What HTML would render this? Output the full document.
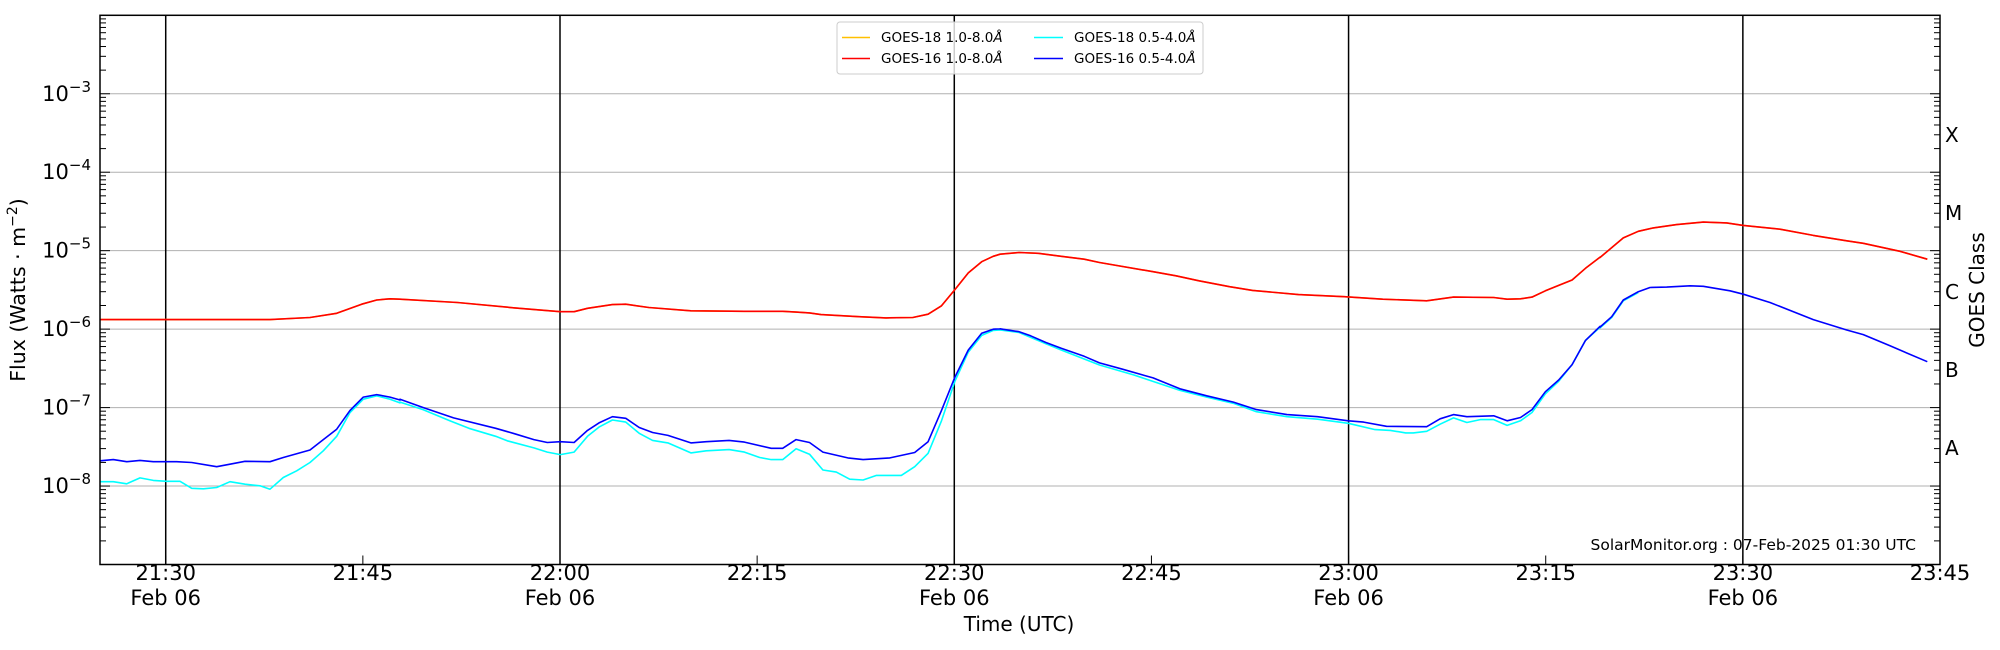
<!DOCTYPE html>
<html><head><meta charset="utf-8"><style>
html,body{margin:0;padding:0;background:#fff;}
svg{display:block;font-family:"DejaVu Sans","Liberation Sans",sans-serif;}
</style></head><body>
<svg id="s" width="2000" height="650" viewBox="0 0 2000 650" xmlns="http://www.w3.org/2000/svg">
<rect width="2000" height="650" fill="#fff"/>
<g id="grid"></g>
<g id="vl"></g>
<g id="series" fill="none" stroke-width="1.6" stroke-linejoin="round"></g>
<rect x="100" y="15.3" width="1840" height="549.2" fill="none" stroke="#000" stroke-width="1.5"/>
<g id="ticks" stroke="#000" stroke-width="1"></g>
<g id="labels" font-size="21" fill="#000"></g>
<text x="25" y="290" font-size="20.5" text-anchor="middle" transform="rotate(-90 25 290)">Flux (Watts · m<tspan font-size="14" dy="-8">−2</tspan><tspan dy="8">)</tspan></text>
<text x="1019" y="631" font-size="20" text-anchor="middle">Time (UTC)</text>
<text x="1984" y="290" font-size="20" text-anchor="middle" transform="rotate(-90 1984 290)">GOES Class</text>
<g font-size="20">
<text x="1945" y="142">X</text><text x="1945" y="220">M</text><text x="1945" y="299">C</text><text x="1945" y="377">B</text><text x="1945" y="455">A</text>
</g>
<text x="1916" y="550" font-size="15.5" text-anchor="end">SolarMonitor.org : 07-Feb-2025 01:30 UTC</text>
<rect x="837" y="22" width="366" height="52" rx="3" fill="#fff" fill-opacity="0.8" stroke="#ccc" stroke-width="1"/>
<g font-size="13.5" fill="#000">
<line x1="842" y1="37.5" x2="870" y2="37.5" stroke="#ffc000" stroke-width="1.6"/>
<text x="881" y="42">GOES-18 1.0-8.0<tspan font-style="italic">Å</tspan></text>
<line x1="842" y1="58.5" x2="870" y2="58.5" stroke="#ff0000" stroke-width="1.6"/>
<text x="881" y="63">GOES-16 1.0-8.0<tspan font-style="italic">Å</tspan></text>
<line x1="1034" y1="37.5" x2="1063" y2="37.5" stroke="#00ffff" stroke-width="1.6"/>
<text x="1074" y="42">GOES-18 0.5-4.0<tspan font-style="italic">Å</tspan></text>
<line x1="1034" y1="58.5" x2="1063" y2="58.5" stroke="#0000ff" stroke-width="1.6"/>
<text x="1074" y="63">GOES-16 0.5-4.0<tspan font-style="italic">Å</tspan></text>
</g>
</svg>
<script>
(function(){
var NS="http://www.w3.org/2000/svg";
function el(p,t,a,txt){var e=document.createElementNS(NS,t);for(var k in a)e.setAttribute(k,a[k]);if(txt!=null)e.textContent=txt;document.getElementById(p).appendChild(e);return e;}
var L=100,R=1940,T=15.3,B=564.5,dec=(B-T)/7;
function yOf(lg){return B-(lg+9)*dec;}
function xOf(min){return L+min*1840/140;}
for(var d=-8;d<=-3;d++){var y=yOf(d);el("grid","line",{x1:L,x2:R,y1:y,y2:y,stroke:"#b0b0b0","stroke-width":1});}
[5,35,65,95,125].forEach(function(m){var x=xOf(m);el("vl","line",{x1:x,x2:x,y1:T,y2:B,stroke:"#000","stroke-width":1.5});});
for(var d=-9;d<-2;d++){for(var k=1;k<=9;k++){var lg=d+Math.log10(k);var y=yOf(lg);if(y<T-0.5)continue;var len=(k==1)?10:6;
el("ticks","line",{x1:L,x2:L+len,y1:y,y2:y});el("ticks","line",{x1:R,x2:R-len,y1:y,y2:y});}}
var labs=["21:30","21:45","22:00","22:15","22:30","22:45","23:00","23:15","23:30","23:45"];
for(var i=0;i<10;i++){var m=5+15*i;var x=xOf(m);el("ticks","line",{x1:x,x2:x,y1:B,y2:B-9});
el("labels","text",{x:x,y:580,"text-anchor":"middle"},labs[i]);
if(i%2==0)el("labels","text",{x:x,y:605,"text-anchor":"middle"},"Feb 06");}
for(var d=-8;d<=-3;d++){var y=yOf(d);var t=el("labels","text",{x:91,y:y+7,"text-anchor":"end"});
var a=document.createElementNS(NS,"tspan");a.textContent="10";t.appendChild(a);
var b=document.createElementNS(NS,"tspan");b.setAttribute("font-size","15");b.setAttribute("dy","-9");b.textContent="−"+(-d);t.appendChild(b);}
function conv(z,X,Y){var x;if(z==1)x=X/3;else if(z==3)x=400+X/2.613;else if(z==4)x=1000+X/2.613;else x=1600+X/3;return [x,Y/2.4];}
function build(parts){var pts=[];parts.forEach(function(p){var z=p[0],a=p[1];for(var i=0;i<a.length;i+=2){var c=conv(z,a[i],a[i+1]);pts.push(c[0].toFixed(1)+","+c[1].toFixed(1));}});return pts.join(" ");}
var red=[[1,[300,767,500,767,810,767,930,762,1010,752,1085,730,1130,720,1170,717,1200,718]],
[3,[0,718,150,726,300,739,419,748,455,748,490,740,555,731,590,730,650,738,760,746,900,747,1000,747,1035,749,1070,751,1100,755,1200,760,1270,763,1340,762,1380,754,1415,734,1450,695,1485,655,1520,628,1550,615,1568,610]],
[4,[0,610,50,606,100,608,160,615,220,622,260,630,400,652,460,662,520,674,600,688,660,697,780,707,900,712,1000,718,1115,722,1185,713,1290,714,1325,718,1360,717,1390,713,1425,698,1460,685,1495,672,1530,644,1568,617]],
[2,[0,618,70,571,115,555,160,547,230,539,310,533,380,535,430,541,540,550,640,565,740,578,790,584,900,603,982,622]]];
var blue=[[1,[300,1106,340,1103,380,1108,420,1105,460,1108,530,1108,575,1110,650,1120,690,1114,735,1107,810,1108,850,1098,930,1080,970,1055,1010,1030,1050,985,1090,953,1130,947,1170,953,1200,960]],
[3,[0,958,60,978,140,1003,250,1028,300,1041,350,1055,385,1062,419,1060,455,1062,490,1033,520,1015,555,1000,590,1004,625,1026,660,1038,700,1045,760,1063,800,1060,860,1057,900,1061,970,1076,1000,1076,1035,1055,1070,1062,1105,1085,1170,1099,1210,1103,1280,1099,1345,1086,1380,1060,1415,985,1450,905,1485,840,1520,800,1550,790,1568,789]],
[4,[0,789,50,796,80,806,120,822,160,836,220,855,260,871,320,886,400,907,470,933,540,950,610,965,670,983,750,995,830,1000,910,1010,950,1013,1010,1023,1115,1024,1150,1005,1185,995,1220,1000,1290,998,1325,1010,1360,1002,1390,983,1425,940,1460,912,1495,875,1530,817,1568,783]],
[2,[0,785,35,760,70,720,115,700,150,690,200,689,270,686,310,687,390,698,430,706,510,726,640,767,740,792,790,803,870,830,982,868]]];
var cyan=[[1,[300,1156,340,1156,380,1161,420,1147,460,1153,500,1155,540,1155,575,1172,610,1173,650,1170,690,1156,735,1162,780,1166,810,1174,850,1146,890,1130,930,1110,970,1082,1010,1047,1050,990,1090,958,1130,950,1170,958,1200,967]],
[3,[0,965,60,983,130,1010,180,1028,250,1047,280,1058,350,1075,385,1085,419,1091,455,1085,490,1047,520,1025,555,1008,590,1013,625,1040,660,1057,700,1063,760,1087,800,1082,860,1079,900,1085,940,1098,970,1103,1000,1103,1035,1077,1070,1090,1105,1128,1140,1133,1175,1150,1210,1152,1245,1141,1310,1141,1345,1120,1380,1088,1415,1010,1450,915,1485,845,1520,805,1550,793,1568,792]],
[4,[0,792,50,798,120,825,160,840,260,876,350,900,470,937,540,953,610,968,670,988,750,1000,830,1006,910,1016,980,1031,1020,1033,1060,1039,1080,1039,1115,1035,1150,1018,1185,1003,1220,1014,1255,1007,1290,1007,1325,1021,1360,1010,1390,990,1425,945,1460,915,1495,875,1530,817,1568,785]],
[2,[0,787,35,762,70,722,115,702]]];
el("series","polyline",{points:build(red),stroke:"#ffc000"});
el("series","polyline",{points:build(red),stroke:"#ff0000"});
el("series","polyline",{points:build(cyan),stroke:"#00ffff"});
el("series","polyline",{points:build(blue),stroke:"#0000ff"});
})();
</script>
</body></html>
